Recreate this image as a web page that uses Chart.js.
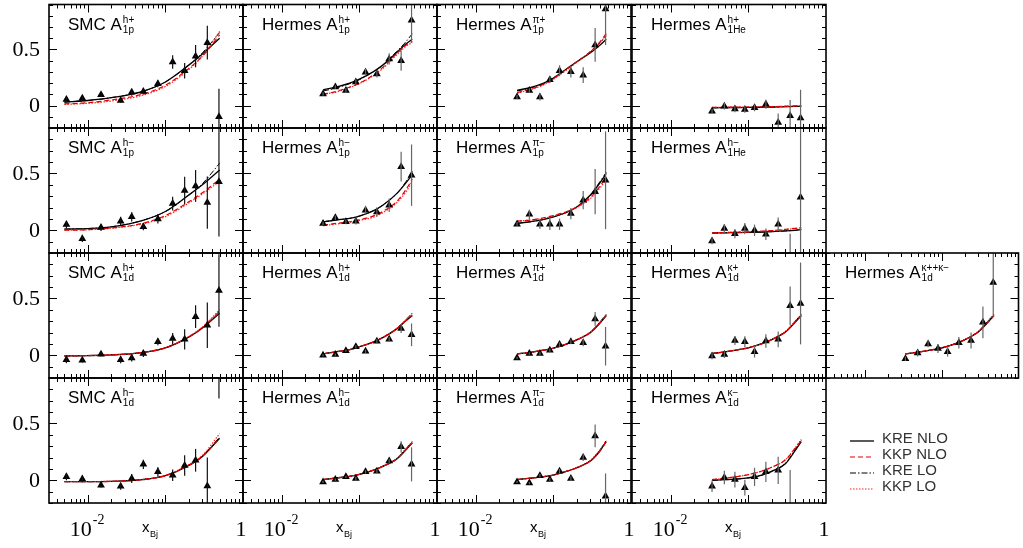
<!DOCTYPE html>
<html>
<head>
<meta charset="utf-8">
<script src="https://cdn.jsdelivr.net/npm/chart.js@4.4.0/dist/chart.umd.min.js"></script>
<style>
  html, body { margin: 0; padding: 0; background: #fff; }
  #wrap { position: relative; width: 1023px; height: 548px; overflow: hidden; }
  #wrap canvas { position: absolute; left: 0; top: 0; }
</style>
</head>
<body>
<div id="wrap"></div>
<script>
// x bins of the two experiments
const xSMC = [0.0053, 0.0085, 0.0148, 0.0265, 0.0368, 0.052, 0.08, 0.124, 0.177, 0.245, 0.347, 0.49];
const xHermes = [0.034, 0.049, 0.067, 0.09, 0.12, 0.168, 0.242, 0.345, 0.47];
// x grid where the model curves were read
const curveXSMC = [0.005, 0.01, 0.02, 0.05, 0.1, 0.2, 0.3, 0.5];
const curveXHermes = [0.034, 0.05, 0.075, 0.1, 0.15, 0.2, 0.3, 0.4, 0.48];

const legendLabels = ['KRE NLO', 'KKP NLO', 'KRE LO', 'KKP LO'];
const yMajorTicks = [0, 0.5];
const yTickLabels = ['0', '0.5'];

// SMC A1p h+
const smcPhpY = [0.053, 0.065, 0.097, 0.044, 0.118, 0.124, 0.194, 0.388, 0.31, 0.44, 0.56, -0.10];
const smcPhpErr = [0.02, 0.02, 0.02, 0.02, 0.03, 0.025, 0.03, 0.06, 0.07, 0.1, 0.15, 0.25];
const smcPhpKreNlo = [0.03, 0.045, 0.07, 0.125, 0.21, 0.36, 0.46, 0.6];
const smcPhpKkpNlo = [0.015, 0.025, 0.05, 0.1, 0.18, 0.33, 0.44, 0.63];
const smcPhpKreLo = [0.03, 0.045, 0.07, 0.125, 0.21, 0.36, 0.47, 0.65];
const smcPhpKkpLo = [0.01, 0.02, 0.04, 0.09, 0.17, 0.32, 0.44, 0.66];

// Hermes A1p h+
const herPhpY = [0.103, 0.165, 0.135, 0.21, 0.297, 0.28, 0.415, 0.4, 0.76];
const herPhpErr = [0.015, 0.015, 0.02, 0.025, 0.03, 0.03, 0.05, 0.09, 0.2];
const herPhpKreNlo = [0.14, 0.165, 0.2, 0.235, 0.3, 0.36, 0.47, 0.55, 0.59];
const herPhpKkpNlo = [0.1, 0.125, 0.165, 0.2, 0.27, 0.34, 0.46, 0.54, 0.57];
const herPhpKreLo = [0.13, 0.155, 0.195, 0.23, 0.3, 0.36, 0.48, 0.57, 0.64];
const herPhpKkpLo = [0.1, 0.12, 0.16, 0.195, 0.265, 0.33, 0.45, 0.53, 0.56];

// Hermes A1p pi+
const herPpipY = [0.076, 0.135, 0.076, 0.23, 0.31, 0.3, 0.27, 0.54, 0.86];
const herPpipErr = [0.02, 0.02, 0.03, 0.03, 0.05, 0.05, 0.07, 0.15, 0.32];
const herPpipKreNlo = [0.135, 0.16, 0.2, 0.245, 0.33, 0.39, 0.47, 0.54, 0.59];
const herPpipKkpNlo = [0.115, 0.145, 0.19, 0.24, 0.33, 0.39, 0.48, 0.57, 0.64];
const herPpipKreLo = [0.13, 0.155, 0.195, 0.24, 0.325, 0.39, 0.48, 0.56, 0.62];
const herPpipKkpLo = [0.11, 0.14, 0.185, 0.235, 0.32, 0.385, 0.48, 0.56, 0.63];

// Hermes A1He h+
const herHeHpY = [-0.05, -0.006, -0.03, -0.035, -0.02, 0.012, -0.15, -0.09, -0.11];
const herHeHpErr = [0.02, 0.03, 0.03, 0.03, 0.03, 0.04, 0.08, 0.14, 0.25];
const herHeHpKreNlo = [-0.02, -0.019, -0.018, -0.017, -0.015, -0.013, -0.01, -0.008, -0.006];
const herHeHpKkpNlo = [-0.015, -0.015, -0.014, -0.013, -0.012, -0.01, -0.006, -0.003, 0.0];
const herHeHpKreLo = [-0.02, -0.019, -0.018, -0.017, -0.015, -0.013, -0.01, -0.008, -0.005];
const herHeHpKkpLo = [-0.016, -0.015, -0.014, -0.013, -0.012, -0.01, -0.007, -0.004, -0.001];

// SMC A1p h-
const smcPhmY = [0.05, -0.074, 0.024, 0.08, 0.118, 0.03, 0.1, 0.235, 0.35, 0.39, 0.244, 0.426];
const smcPhmErr = [0.03, 0.03, 0.03, 0.04, 0.04, 0.03, 0.04, 0.06, 0.12, 0.14, 0.23, 0.48];
const smcPhmKreNlo = [0.01, 0.015, 0.03, 0.085, 0.165, 0.31, 0.4, 0.53];
const smcPhmKkpNlo = [0.0, 0.005, 0.02, 0.06, 0.13, 0.25, 0.33, 0.45];
const smcPhmKreLo = [0.01, 0.015, 0.03, 0.085, 0.165, 0.31, 0.41, 0.59];
const smcPhmKkpLo = [0.0, 0.005, 0.018, 0.055, 0.12, 0.24, 0.32, 0.43];

// Hermes A1p h-
const herPhmY = [0.06, 0.11, 0.074, 0.08, 0.176, 0.16, 0.22, 0.56, 0.485];
const herPhmErr = [0.015, 0.02, 0.02, 0.03, 0.04, 0.04, 0.06, 0.13, 0.27];
const herPhmKreNlo = [0.074, 0.09, 0.105, 0.125, 0.17, 0.22, 0.32, 0.42, 0.49];
const herPhmKkpNlo = [0.045, 0.06, 0.075, 0.092, 0.125, 0.165, 0.25, 0.36, 0.45];
const herPhmKreLo = [0.074, 0.09, 0.105, 0.125, 0.17, 0.22, 0.32, 0.43, 0.52];
const herPhmKkpLo = [0.04, 0.055, 0.07, 0.087, 0.115, 0.155, 0.24, 0.34, 0.43];

// Hermes A1p pi-
const herPpimY = [0.053, 0.14, 0.053, 0.053, 0.053, 0.147, 0.265, 0.34, 0.44];
const herPpimErr = [0.02, 0.04, 0.04, 0.05, 0.05, 0.05, 0.08, 0.2, 0.43];
const herPpimKreNlo = [0.06, 0.075, 0.095, 0.118, 0.16, 0.205, 0.31, 0.42, 0.5];
const herPpimKkpNlo = [0.08, 0.09, 0.11, 0.13, 0.165, 0.205, 0.29, 0.39, 0.47];
const herPpimKreLo = [0.06, 0.075, 0.095, 0.118, 0.16, 0.205, 0.31, 0.43, 0.51];
const herPpimKkpLo = [0.08, 0.09, 0.105, 0.125, 0.16, 0.2, 0.28, 0.375, 0.45];

// Hermes A1He h-
const herHeHmY = [-0.094, 0.015, -0.03, 0.015, 0.0, -0.035, 0.053, -0.3, 0.29];
const herHeHmErr = [0.03, 0.04, 0.04, 0.05, 0.05, 0.05, 0.06, 0.27, 0.6];
const herHeHmKreNlo = [-0.024, -0.022, -0.02, -0.018, -0.015, -0.012, -0.006, 0.0, 0.006];
const herHeHmKkpNlo = [-0.024, -0.02, -0.017, -0.014, -0.008, -0.003, 0.008, 0.017, 0.024];
const herHeHmKreLo = [-0.024, -0.022, -0.02, -0.018, -0.015, -0.012, -0.006, 0.0, 0.007];
const herHeHmKkpLo = [-0.023, -0.02, -0.017, -0.014, -0.009, -0.004, 0.007, 0.015, 0.022];

// SMC A1d h+
const smcDhpY = [-0.04, -0.044, 0.01, -0.04, -0.024, 0.015, 0.118, 0.147, 0.14, 0.34, 0.265, 0.57];
const smcDhpErr = [0.03, 0.02, 0.02, 0.03, 0.03, 0.03, 0.03, 0.05, 0.09, 0.1, 0.2, 0.32];
const smcDhpKreNlo = [-0.006, -0.003, 0.003, 0.024, 0.065, 0.16, 0.24, 0.37];
const smcDhpKkpNlo = [-0.006, -0.003, 0.003, 0.024, 0.065, 0.16, 0.24, 0.38];
const smcDhpKreLo = [-0.006, -0.003, 0.003, 0.024, 0.066, 0.162, 0.245, 0.39];
const smcDhpKkpLo = [-0.005, -0.002, 0.004, 0.025, 0.067, 0.165, 0.25, 0.4];

// Hermes A1d h+
const herDhpY = [0.0, 0.006, 0.04, 0.074, 0.035, 0.124, 0.14, 0.235, 0.18];
const herDhpErr = [0.01, 0.01, 0.01, 0.015, 0.015, 0.02, 0.02, 0.04, 0.1];
const herDhpKreNlo = [0.012, 0.03, 0.05, 0.075, 0.115, 0.155, 0.23, 0.305, 0.35];
const herDhpKkpNlo = [0.012, 0.03, 0.05, 0.075, 0.115, 0.155, 0.23, 0.305, 0.35];
const herDhpKreLo = [0.012, 0.03, 0.05, 0.075, 0.116, 0.157, 0.235, 0.315, 0.37];
const herDhpKkpLo = [0.012, 0.03, 0.05, 0.075, 0.116, 0.157, 0.235, 0.315, 0.37];

// Hermes A1d pi+
const herDpipY = [-0.024, 0.015, 0.015, 0.044, 0.094, 0.118, 0.11, 0.32, 0.08];
const herDpipErr = [0.01, 0.01, 0.015, 0.015, 0.02, 0.02, 0.03, 0.06, 0.17];
const herDpipKreNlo = [0.012, 0.025, 0.045, 0.062, 0.1, 0.135, 0.2, 0.285, 0.35];
const herDpipKkpNlo = [0.012, 0.025, 0.045, 0.062, 0.1, 0.135, 0.2, 0.285, 0.35];
const herDpipKreLo = [0.012, 0.025, 0.045, 0.062, 0.101, 0.137, 0.205, 0.295, 0.36];
const herDpipKkpLo = [0.012, 0.025, 0.045, 0.062, 0.101, 0.137, 0.205, 0.295, 0.36];

// Hermes A1d K+
const herDkpY = [-0.006, 0.006, 0.13, 0.118, 0.03, 0.126, 0.14, 0.435, 0.456];
const herDkpErr = [0.03, 0.03, 0.04, 0.05, 0.05, 0.06, 0.07, 0.17, 0.36];
const herDkpKreNlo = [0.015, 0.03, 0.05, 0.066, 0.102, 0.138, 0.205, 0.29, 0.35];
const herDkpKkpNlo = [0.015, 0.03, 0.05, 0.066, 0.102, 0.138, 0.205, 0.29, 0.35];
const herDkpKreLo = [0.015, 0.03, 0.05, 0.067, 0.103, 0.14, 0.21, 0.3, 0.36];
const herDkpKkpLo = [0.015, 0.03, 0.05, 0.067, 0.103, 0.14, 0.21, 0.3, 0.36];

// Hermes A1d K+ + K-
const herDkkY = [-0.03, 0.02, 0.1, 0.06, 0.03, 0.11, 0.13, 0.29, 0.64];
const herDkkErr = [0.02, 0.03, 0.03, 0.04, 0.04, 0.05, 0.07, 0.14, 0.3];
const herDkkKreNlo = [0.012, 0.028, 0.048, 0.064, 0.1, 0.136, 0.205, 0.29, 0.35];
const herDkkKkpNlo = [0.012, 0.028, 0.048, 0.064, 0.1, 0.136, 0.205, 0.29, 0.35];
const herDkkKreLo = [0.012, 0.028, 0.048, 0.065, 0.102, 0.138, 0.21, 0.3, 0.36];
const herDkkKkpLo = [0.012, 0.028, 0.048, 0.065, 0.102, 0.138, 0.21, 0.3, 0.36];

// SMC A1d h-
const smcDhmY = [0.03, 0.012, -0.044, -0.053, 0.015, 0.14, 0.074, 0.044, 0.13, 0.176, -0.05, 1.0];
const smcDhmErr = [0.03, 0.03, 0.02, 0.03, 0.04, 0.04, 0.04, 0.05, 0.09, 0.1, 0.25, 0.28];
const smcDhmKreNlo = [-0.012, -0.012, -0.01, 0.005, 0.04, 0.13, 0.21, 0.37];
const smcDhmKkpNlo = [-0.012, -0.012, -0.01, 0.005, 0.04, 0.13, 0.21, 0.37];
const smcDhmKreLo = [-0.012, -0.012, -0.01, 0.006, 0.042, 0.135, 0.215, 0.38];
const smcDhmKkpLo = [-0.011, -0.011, -0.009, 0.007, 0.044, 0.138, 0.22, 0.41];

// Hermes A1d h-
const herDhmY = [-0.015, 0.006, 0.03, 0.015, 0.074, 0.08, 0.17, 0.294, 0.14];
const herDhmErr = [0.01, 0.01, 0.01, 0.015, 0.015, 0.02, 0.02, 0.05, 0.15];
const herDhmKreNlo = [0.006, 0.02, 0.035, 0.052, 0.088, 0.122, 0.185, 0.27, 0.33];
const herDhmKkpNlo = [0.006, 0.02, 0.035, 0.052, 0.088, 0.122, 0.185, 0.27, 0.33];
const herDhmKreLo = [0.006, 0.02, 0.035, 0.052, 0.089, 0.124, 0.19, 0.28, 0.34];
const herDhmKkpLo = [0.006, 0.02, 0.035, 0.052, 0.089, 0.124, 0.19, 0.28, 0.34];

// Hermes A1d pi-
const herDpimY = [-0.015, -0.024, 0.04, 0.006, 0.08, 0.015, 0.2, 0.39, -0.14];
const herDpimErr = [0.01, 0.01, 0.015, 0.015, 0.02, 0.02, 0.03, 0.1, 0.2];
const herDpimKreNlo = [0.006, 0.018, 0.032, 0.046, 0.08, 0.11, 0.17, 0.26, 0.34];
const herDpimKkpNlo = [0.006, 0.018, 0.032, 0.046, 0.08, 0.11, 0.17, 0.26, 0.34];
const herDpimKreLo = [0.006, 0.018, 0.032, 0.047, 0.081, 0.112, 0.175, 0.27, 0.35];
const herDpimKkpLo = [0.006, 0.018, 0.032, 0.047, 0.081, 0.112, 0.175, 0.27, 0.35];

// Hermes A1d K-
const herDkmY = [-0.053, 0.024, 0.006, -0.065, 0.03, 0.074, 0.088, -0.25];
const herDkmErr = [0.05, 0.06, 0.07, 0.07, 0.08, 0.09, 0.12, 0.34];
const herDkmKreNlo = [0.0, 0.005, 0.012, 0.022, 0.045, 0.078, 0.145, 0.26, 0.34];
const herDkmKkpNlo = [0.006, 0.018, 0.035, 0.05, 0.082, 0.115, 0.18, 0.28, 0.35];
const herDkmKreLo = [0.0, 0.005, 0.012, 0.022, 0.046, 0.08, 0.15, 0.27, 0.35];
const herDkmKkpLo = [0.006, 0.018, 0.035, 0.05, 0.082, 0.115, 0.18, 0.285, 0.36];

// panel grid on the page
const colLeft = [49, 243, 437, 632, 826];
const rowTop = [3, 128, 253, 378];
const panelW = 194, panelH = 125;
const W = 1023, H = 548;

const SANS = '"Liberation Sans", Arial, sans-serif';
const SERIF = '"Liberation Serif", "Times New Roman", serif';

const panels = [
  { t: ['SMC A', 'h+', '1p'], c: 0, r: 0, x: xSMC, cx: curveXSMC, y: smcPhpY, e: smcPhpErr, cv: [smcPhpKreNlo, smcPhpKkpNlo, smcPhpKreLo, smcPhpKkpLo] },
  { t: ['Hermes A', 'h+', '1p'], c: 1, r: 0, x: xHermes, cx: curveXHermes, y: herPhpY, e: herPhpErr, cv: [herPhpKreNlo, herPhpKkpNlo, herPhpKreLo, herPhpKkpLo] },
  { t: ['Hermes A', 'π+', '1p'], c: 2, r: 0, x: xHermes, cx: curveXHermes, y: herPpipY, e: herPpipErr, cv: [herPpipKreNlo, herPpipKkpNlo, herPpipKreLo, herPpipKkpLo] },
  { t: ['Hermes A', 'h+', '1He'], c: 3, r: 0, x: xHermes, cx: curveXHermes, y: herHeHpY, e: herHeHpErr, cv: [herHeHpKreNlo, herHeHpKkpNlo, herHeHpKreLo, herHeHpKkpLo] },
  { t: ['SMC A', 'h−', '1p'], c: 0, r: 1, x: xSMC, cx: curveXSMC, y: smcPhmY, e: smcPhmErr, cv: [smcPhmKreNlo, smcPhmKkpNlo, smcPhmKreLo, smcPhmKkpLo] },
  { t: ['Hermes A', 'h−', '1p'], c: 1, r: 1, x: xHermes, cx: curveXHermes, y: herPhmY, e: herPhmErr, cv: [herPhmKreNlo, herPhmKkpNlo, herPhmKreLo, herPhmKkpLo] },
  { t: ['Hermes A', 'π−', '1p'], c: 2, r: 1, x: xHermes, cx: curveXHermes, y: herPpimY, e: herPpimErr, cv: [herPpimKreNlo, herPpimKkpNlo, herPpimKreLo, herPpimKkpLo] },
  { t: ['Hermes A', 'h−', '1He'], c: 3, r: 1, x: xHermes, cx: curveXHermes, y: herHeHmY, e: herHeHmErr, cv: [herHeHmKreNlo, herHeHmKkpNlo, herHeHmKreLo, herHeHmKkpLo] },
  { t: ['SMC A', 'h+', '1d'], c: 0, r: 2, x: xSMC, cx: curveXSMC, y: smcDhpY, e: smcDhpErr, cv: [smcDhpKreNlo, smcDhpKkpNlo, smcDhpKreLo, smcDhpKkpLo] },
  { t: ['Hermes A', 'h+', '1d'], c: 1, r: 2, x: xHermes, cx: curveXHermes, y: herDhpY, e: herDhpErr, cv: [herDhpKreNlo, herDhpKkpNlo, herDhpKreLo, herDhpKkpLo] },
  { t: ['Hermes A', 'π+', '1d'], c: 2, r: 2, x: xHermes, cx: curveXHermes, y: herDpipY, e: herDpipErr, cv: [herDpipKreNlo, herDpipKkpNlo, herDpipKreLo, herDpipKkpLo] },
  { t: ['Hermes A', 'κ+', '1d'], c: 3, r: 2, x: xHermes, cx: curveXHermes, y: herDkpY, e: herDkpErr, cv: [herDkpKreNlo, herDkpKkpNlo, herDkpKreLo, herDkpKkpLo] },
  { t: ['Hermes A', 'κ++κ−', '1d'], c: 4, r: 2, x: xHermes, cx: curveXHermes, y: herDkkY, e: herDkkErr, cv: [herDkkKreNlo, herDkkKkpNlo, herDkkKreLo, herDkkKkpLo] },
  { t: ['SMC A', 'h−', '1d'], c: 0, r: 3, x: xSMC, cx: curveXSMC, y: smcDhmY, e: smcDhmErr, cv: [smcDhmKreNlo, smcDhmKkpNlo, smcDhmKreLo, smcDhmKkpLo] },
  { t: ['Hermes A', 'h−', '1d'], c: 1, r: 3, x: xHermes, cx: curveXHermes, y: herDhmY, e: herDhmErr, cv: [herDhmKreNlo, herDhmKkpNlo, herDhmKreLo, herDhmKkpLo] },
  { t: ['Hermes A', 'π−', '1d'], c: 2, r: 3, x: xHermes, cx: curveXHermes, y: herDpimY, e: herDpimErr, cv: [herDpimKreNlo, herDpimKkpNlo, herDpimKreLo, herDpimKkpLo] },
  { t: ['Hermes A', 'κ−', '1d'], c: 3, r: 3, x: xHermes, cx: curveXHermes, y: herDkmY, e: herDkmErr, cv: [herDkmKreNlo, herDkmKkpNlo, herDkmKreLo, herDkmKkpLo], legend: true }
];

const curveStyles = [
  { color: '#000', dash: [], width: 1.3, order: 3 },
  { color: '#e00000', dash: [5, 3], width: 1.2, order: 1 },
  { color: '#000', dash: [6, 2, 1.5, 2], width: 1, order: 4 },
  { color: '#ff2020', dash: [1.5, 1.5], width: 1.2, order: 2 }
];

// frame, inward ticks, labels, error bars and legend
const decor = {
  id: 'decor',
  afterDatasetsDraw(chart) {
    const p = chart.options.plugins.decor.panel;
    const { ctx, chartArea: a, scales: { y } } = chart;
    const meta = chart.getDatasetMeta(0);
    ctx.save();
    ctx.beginPath();
    ctx.rect(a.left, a.top, a.right - a.left, a.bottom - a.top);
    ctx.clip();
    ctx.strokeStyle = p.t[0].startsWith('SMC') ? '#111' : '#666';
    ctx.lineWidth = 1.2;
    p.y.forEach((v, i) => {
      const px = meta.data[i].x;
      ctx.beginPath();
      ctx.moveTo(px, y.getPixelForValue(v - p.e[i]));
      ctx.lineTo(px, y.getPixelForValue(v + p.e[i]));
      ctx.stroke();
    });
    ctx.restore();
  },
  afterDraw(chart) {
    const p = chart.options.plugins.decor.panel;
    const { ctx, chartArea: a, scales: { x, y } } = chart;
    ctx.save();
    ctx.strokeStyle = '#000';
    ctx.lineWidth = 1;
    ctx.beginPath();
    for (let k = -2; k <= 9; k++) {
      const v = k / 10;
      const py = Math.round(y.getPixelForValue(v)) + 0.5;
      const len = yMajorTicks.includes(v) ? 8 : 4;
      ctx.moveTo(a.left, py); ctx.lineTo(a.left + len, py);
      ctx.moveTo(a.right, py); ctx.lineTo(a.right - len, py);
    }
    for (let d = -3; d <= 0; d++) {
      for (let m = 1; m <= 9; m++) {
        const v = m * Math.pow(10, d);
        if (v < x.min || v >= x.max) continue;
        const px = Math.round(x.getPixelForValue(v)) + 0.5;
        const len = m === 1 ? 8 : 4;
        ctx.moveTo(px, a.bottom); ctx.lineTo(px, a.bottom - len);
        ctx.moveTo(px, a.top); ctx.lineTo(px, a.top + len);
      }
    }
    ctx.stroke();
    ctx.lineWidth = 1.6;
    ctx.strokeRect(a.left, a.top, a.right - a.left, a.bottom - a.top);

    // panel title
    ctx.fillStyle = '#000';
    ctx.textBaseline = 'alphabetic';
    ctx.textAlign = 'left';
    ctx.font = '17px ' + SANS;
    const tx = a.left + 19;
    ctx.fillText(p.t[0], tx, a.top + 25);
    const w = ctx.measureText(p.t[0]).width;
    ctx.font = '10px ' + SANS;
    ctx.fillText(p.t[1], tx + w + 1, a.top + 18);
    ctx.fillText(p.t[2], tx + w + 1, a.top + 28);

    // y tick labels on the first column
    if (p.c === 0) {
      ctx.font = '22px ' + SERIF;
      ctx.textAlign = 'right';
      ctx.textBaseline = 'middle';
      yMajorTicks.forEach((v, i) => ctx.fillText(yTickLabels[i], 40, y.getPixelForValue(v) + 1));
    }
    // x tick labels under the bottom row
    if (p.r === 3) {
      ctx.textBaseline = 'alphabetic';
      const p2 = x.getPixelForValue(0.01);
      ctx.font = '22px ' + SERIF;
      ctx.textAlign = 'right';
      ctx.fillText('10', p2 + 4, 536);
      ctx.font = '14px ' + SERIF;
      ctx.textAlign = 'left';
      ctx.fillText('-2', p2 + 5, 524);
      ctx.font = '22px ' + SERIF;
      ctx.textAlign = 'center';
      ctx.fillText('1', x.getPixelForValue(1) - 2, 536);
      ctx.font = '15px ' + SANS;
      ctx.textAlign = 'left';
      const xb = x.getPixelForValue(0.05);
      ctx.fillText('x', xb, 532);
      ctx.font = '9px ' + SANS;
      ctx.fillText('Bj', xb + 8, 537);
    }
    // legend
    if (p.legend) {
      const rows = [439, 455, 471, 487];
      ctx.font = '15px ' + SANS;
      ctx.textAlign = 'left';
      ctx.textBaseline = 'middle';
      for (let i = 0; i < 4; i++) {
        const ds = chart.data.datasets[i + 1];
        ctx.strokeStyle = ds.borderColor;
        ctx.lineWidth = ds.borderWidth;
        ctx.setLineDash(ds.borderDash);
        ctx.beginPath();
        ctx.moveTo(850, rows[i] + 2);
        ctx.lineTo(874, rows[i] + 2);
        ctx.stroke();
        ctx.setLineDash([]);
        ctx.fillStyle = '#333';
        ctx.fillText(ds.label, 882, rows[i]);
      }
    }
    ctx.restore();
  }
};

const wrap = document.getElementById('wrap');
panels.forEach(p => {
  const cv = document.createElement('canvas');
  cv.width = W; cv.height = H;
  cv.style.width = W + 'px'; cv.style.height = H + 'px';
  wrap.appendChild(cv);
  const L = colLeft[p.c], T = rowTop[p.r];
  const datasets = [{
    label: 'data',
    data: p.y.map((v, i) => ({ x: p.x[i], y: v })),
    pointStyle: 'triangle',
    pointRadius: 4.5,
    backgroundColor: '#000',
    borderWidth: 0,
    showLine: false,
    order: 0
  }];
  p.cv.forEach((vals, k) => {
    const s = curveStyles[k];
    datasets.push({
      label: legendLabels[k],
      data: vals.map((v, i) => ({ x: p.cx[i], y: v })),
      showLine: true,
      borderColor: s.color,
      borderDash: s.dash,
      borderWidth: s.width,
      pointRadius: 0,
      cubicInterpolationMode: 'monotone',
      fill: false,
      order: s.order
    });
  });
  new Chart(cv.getContext('2d'), {
    type: 'scatter',
    data: { datasets },
    options: {
      responsive: false,
      animation: false,
      devicePixelRatio: 1,
      events: [],
      layout: { padding: { left: L, top: T, right: W - L - panelW, bottom: H - T - panelH } },
      scales: {
        x: { type: 'logarithmic', min: Math.pow(10, -2.5), max: 1, display: false },
        y: { type: 'linear', min: -0.2, max: 0.9, display: false }
      },
      plugins: {
        legend: { display: false },
        tooltip: { enabled: false },
        decor: { panel: p }
      }
    },
    plugins: [decor]
  });
});
</script>
</body>
</html>
